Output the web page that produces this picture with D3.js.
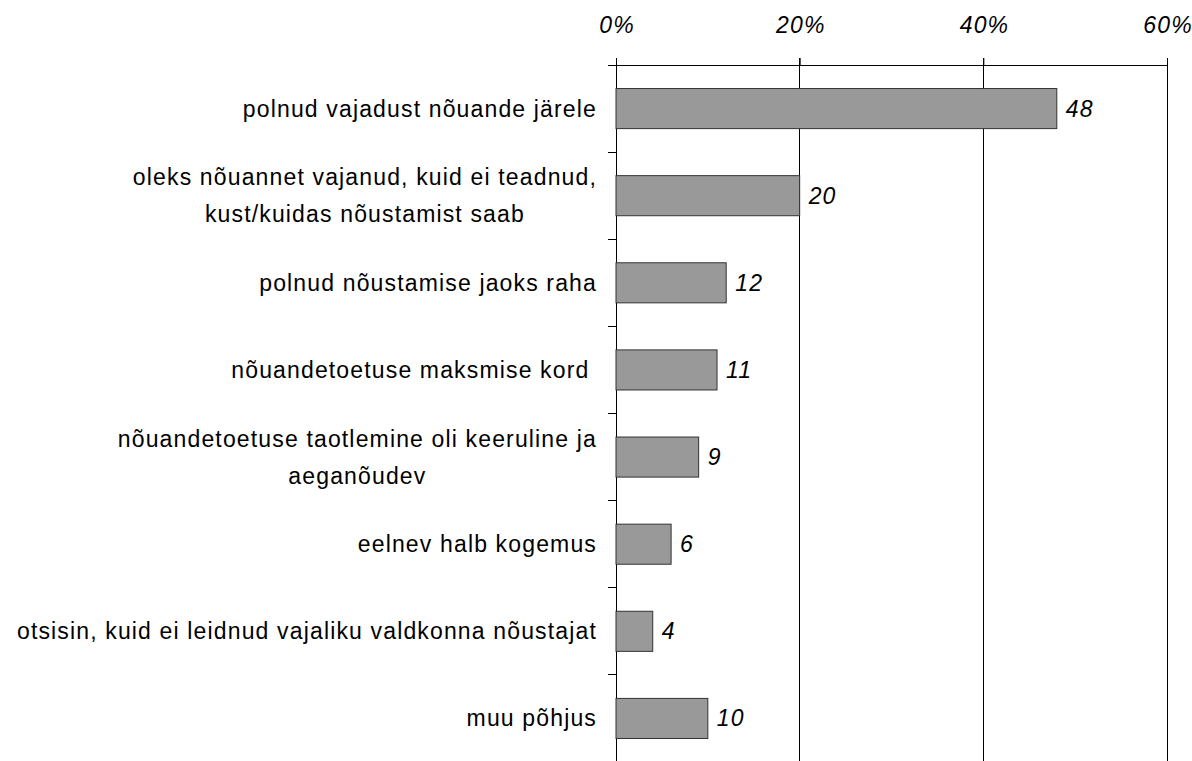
<!DOCTYPE html>
<html><head><meta charset="utf-8">
<script src="https://cdn.jsdelivr.net/npm/d3@7"></script>
<style>body{margin:0;background:#fff;} svg{display:block;}</style>
</head><body>
<svg id="chart" width="1192" height="761"></svg>
<script>
const categories = [
  ["polnud vajadust nõuande järele"],
  ["oleks nõuannet vajanud, kuid ei teadnud,", "kust/kuidas nõustamist saab"],
  ["polnud nõustamise jaoks raha"],
  ["nõuandetoetuse maksmise kord "],
  ["nõuandetoetuse taotlemine oli keeruline ja", "aeganõudev"],
  ["eelnev halb kogemus"],
  ["otsisin, kuid ei leidnud vajaliku valdkonna nõustajat"],
  ["muu põhjus"]
];
const values = [48, 20, 12, 11, 9, 6, 4, 10];
const tickValues = [0, 20, 40, 60];

const svg = d3.select("#chart");
const font = "'Liberation Sans', Arial, sans-serif";
const fs = 23, ls = "1.15px";
const x = d3.scaleLinear().domain([0, 60]).range([616, 1167]);
const y = d3.scaleBand().domain(d3.range(categories.length)).range([65, 762])
  .paddingInner(0.54).paddingOuter(0.27);
const yTicks = d3.scaleBand().domain(d3.range(categories.length)).range([65, 762]).padding(0);

// gridlines
svg.append("g").selectAll("line").data(tickValues.slice(1)).join("line")
  .attr("x1", d => x(d)).attr("x2", d => x(d))
  .attr("y1", 58).attr("y2", 762)
  .attr("stroke", "#000").attr("stroke-width", 1).attr("shape-rendering", "crispEdges");

// top axis
const xAxis = d3.axisTop(x).tickValues(tickValues).tickSize(7).tickSizeOuter(0)
  .tickFormat(d => d + "%");
const gx = svg.append("g").attr("transform", "translate(0,65)").call(xAxis);
gx.select(".domain").attr("d", `M608,0.5H${x(60)}`).attr("stroke", "#000");
gx.selectAll(".tick line").attr("stroke", "#000");
gx.selectAll(".tick text").attr("font-family", font).attr("font-size", fs)
  .attr("font-style", "italic").attr("fill", "#000").attr("y", -32).attr("dy", 0)
  .attr("letter-spacing", ls).attr("dx", "0.6");

// left axis line + ticks
svg.append("line").attr("x1", 616).attr("x2", 616).attr("y1", 65).attr("y2", 762)
  .attr("stroke", "#000").attr("shape-rendering", "crispEdges");
svg.append("g").selectAll("line").data(d3.range(categories.length + 1)).join("line")
  .attr("x1", 608).attr("x2", 616)
  .attr("y1", d => 65 + d * yTicks.step()).attr("y2", d => 65 + d * yTicks.step())
  .attr("stroke", "#000").attr("shape-rendering", "crispEdges");

// bars
svg.append("g").selectAll("rect").data(values).join("rect")
  .attr("x", x(0)).attr("y", (d, i) => y(i))
  .attr("width", d => x(d) - x(0)).attr("height", y.bandwidth())
  .attr("fill", "#999999").attr("stroke", "#333").attr("stroke-width", 1);

// value labels
svg.append("g").selectAll("text").data(values).join("text")
  .attr("x", d => x(d) + 9).attr("y", (d, i) => y(i) + y.bandwidth() / 2 + 8)
  .attr("font-family", font).attr("font-size", fs).attr("letter-spacing", ls)
  .attr("font-style", "italic").text(d => d);

// category labels
const lineH = 37;
const lab = svg.append("g");
categories.forEach((lines, i) => {
  const cy = y(i) + y.bandwidth() / 2 + 8;
  const t = lab.append("text").attr("font-family", font).attr("font-size", fs)
    .attr("letter-spacing", ls).attr("fill", "#000").attr("xml:space", "preserve");
  lines.forEach((ln, j) => {
    t.append("tspan").attr("x", 0).attr("y", cy + (j - (lines.length - 1) / 2) * lineH)
      .attr("text-anchor", "middle").text(ln);
  });
  const bb = t.node().getBBox();
  t.attr("transform", `translate(${597 - (bb.x + bb.width)},0)`);
});
</script>
</body></html>
